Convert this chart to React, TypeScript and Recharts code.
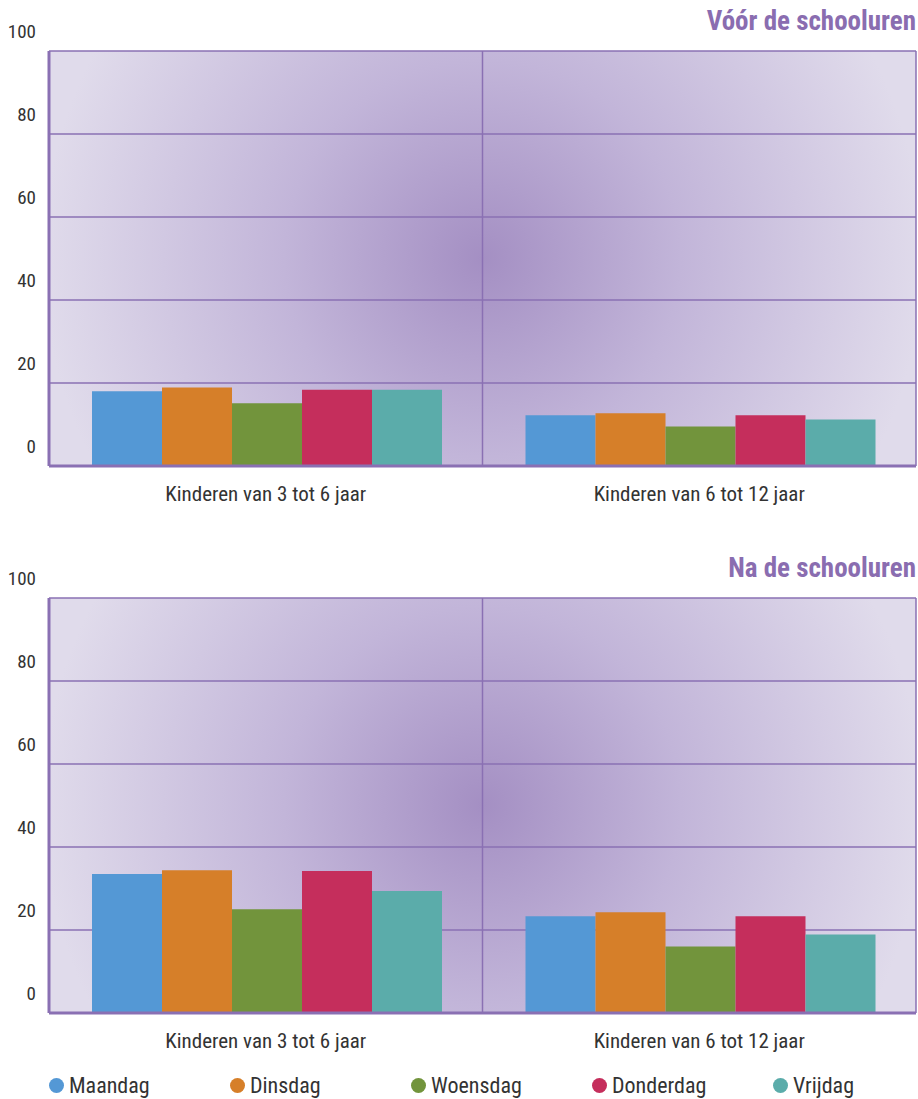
import React from 'react';
import { BarChart, Bar, XAxis, YAxis, CartesianGrid } from 'recharts';

// categories and series
const categories = ['Kinderen van 3 tot 6 jaar', 'Kinderen van 6 tot 12 jaar'];
const days = ['Maandag', 'Dinsdag', 'Woensdag', 'Donderdag', 'Vrijdag'];
const dayColors = ['#5498d5', '#d67f29', '#72943c', '#c52e5c', '#5bacaa'];
const yTicks = [0, 20, 40, 60, 80, 100];

// Vóór de schooluren (per categorie)
const voorMaandag = [18.0, 12.2];
const voorDinsdag = [18.9, 12.7];
const voorWoensdag = [15.1, 9.5];
const voorDonderdag = [18.4, 12.2];
const voorVrijdag = [18.4, 11.2];

// Na de schooluren
const naMaandag = [33.5, 23.3];
const naDinsdag = [34.4, 24.3];
const naWoensdag = [25.0, 16.0];
const naDonderdag = [34.2, 23.3];
const naVrijdag = [29.4, 18.9];

const buildRows = (series: number[][]) =>
  categories.map((name, i) => {
    const row: any = { name };
    days.forEach((d, j) => {
      row[d] = series[j][i];
    });
    return row;
  });

const voorData = buildRows([voorMaandag, voorDinsdag, voorWoensdag, voorDonderdag, voorVrijdag]);
const naData = buildRows([naMaandag, naDinsdag, naWoensdag, naDonderdag, naVrijdag]);

const FONT = "'Liberation Sans Narrow', 'Roboto Condensed', Roboto, sans-serif";
const PURPLE = '#8a70b3';
const W = 918;
const H = 520;
const M = { top: 51, right: 2, left: 0, bottom: 14 };
const YW = 49;

const YTick = (props: any) => {
  const { x, y, payload } = props;
  return (
    <text x={x} y={y - 20} textAnchor="end" dominantBaseline="central" fill="#333" fontSize={19} fontFamily={FONT}>
      {payload.value}
    </text>
  );
};

const Panel = ({ data, title, id }: { data: any[]; title: string; id: string }) => {
  const plotW = W - YW - M.right;
  const plotH = H - M.top - M.bottom - 40;
  return (
    <div style={{ position: 'relative', width: W, height: H }}>
      <div
        style={{
          position: 'absolute',
          right: 2,
          top: 4,
          fontFamily: FONT,
          fontWeight: 'bold',
          fontSize: 27,
          lineHeight: '34px',
          color: '#8a6db0',
        }}
      >
        {title}
      </div>
      <BarChart width={W} height={H} data={data} margin={M} barGap={0} barCategoryGap={43}>
        <defs>
          <radialGradient
            id={id}
            gradientUnits="userSpaceOnUse"
            cx={YW + plotW / 2}
            cy={M.top + plotH / 2}
            r={440}
          >
            <stop offset="0%" stopColor="#a48fc3" />
            <stop offset="45%" stopColor="#c2b5d9" />
            <stop offset="100%" stopColor="#e0dbeb" />
          </radialGradient>
        </defs>
        <CartesianGrid
          fill={`url(#${id})`}
          fillOpacity={1}
          stroke={PURPLE}
          strokeWidth={1.5}
          verticalCoordinatesGenerator={({ offset }: any) => [
            offset.left,
            offset.left + offset.width / 2,
            offset.left + offset.width,
          ]}
        />
        <XAxis
          dataKey="name"
          height={40}
          tickLine={false}
          tickSize={0}
          tickMargin={20}
          axisLine={{ stroke: PURPLE, strokeWidth: 3 }}
          tick={{ fill: '#333', fontSize: 21, fontFamily: FONT }}
        />
        <YAxis
          width={YW}
          domain={[0, 100]}
          ticks={yTicks}
          tickLine={false}
          tickSize={0}
          tickMargin={13}
          axisLine={{ stroke: PURPLE, strokeWidth: 3 }}
          tick={<YTick />}
        />
        {days.map((d, i) => (
          <Bar key={d} dataKey={d} fill={dayColors[i]} isAnimationActive={false} />
        ))}
      </BarChart>
    </div>
  );
};

export default function App() {
  return (
    <div style={{ position: 'absolute', left: 0, top: 0, width: W, height: 1099, background: '#fff' }}>
      <Panel data={voorData} title="Vóór de schooluren" id="bgVoor" />
      <div style={{ position: 'absolute', left: 0, top: 547 }}>
        <Panel data={naData} title="Na de schooluren" id="bgNa" />
      </div>
      <div
        style={{
          position: 'absolute',
          left: 49,
          top: 1073,
          display: 'flex',
          fontFamily: FONT,
          fontSize: 22,
          color: '#333',
        }}
      >
        {days.map((d, i) => (
          <div key={d} style={{ width: 181, display: 'flex', alignItems: 'center' }}>
            <span
              style={{
                display: 'inline-block',
                width: 15,
                height: 15,
                borderRadius: '50%',
                background: dayColors[i],
                marginRight: 5,
              }}
            />
            {d}
          </div>
        ))}
      </div>
    </div>
  );
}
